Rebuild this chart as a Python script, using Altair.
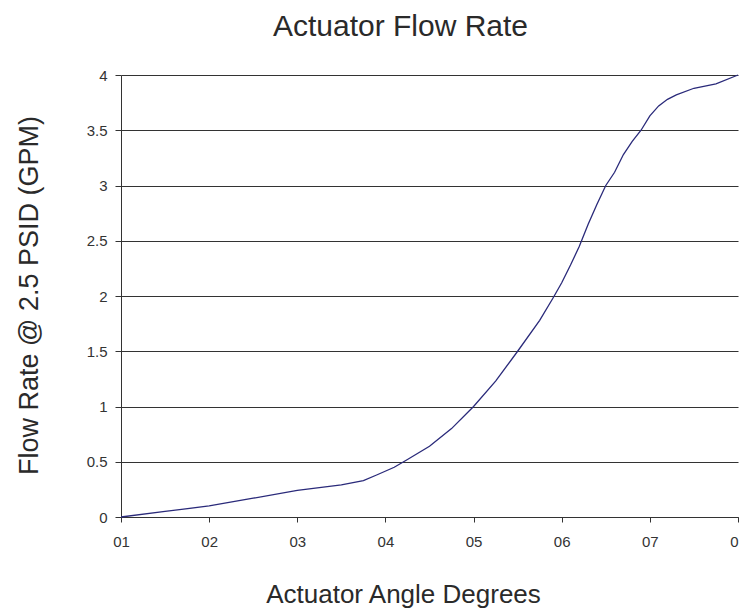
import altair as alt
import pandas as pd

angle = [10, 15, 20, 25, 30, 35, 37.5, 39, 41, 42.5, 45, 47.5, 50, 52.5, 55, 57.5, 59,
         60, 61, 62, 63, 64, 65, 66, 67, 68, 69, 70, 71, 72, 73, 75, 77.5, 80]
flow = [0, 0.05, 0.1, 0.17, 0.24, 0.29, 0.33, 0.38, 0.45, 0.52, 0.64, 0.8, 1.0, 1.23, 1.5,
        1.78, 1.98, 2.12, 2.28, 2.45, 2.65, 2.83, 3.0, 3.12, 3.28, 3.4, 3.5, 3.63, 3.72,
        3.78, 3.82, 3.88, 3.92, 4.0]
x_ticks = [10, 20, 30, 40, 50, 60, 70, 80]
x_labels = ["01", "02", "03", "04", "05", "06", "07", "0"]
y_ticks = [0, 0.5, 1, 1.5, 2, 2.5, 3, 3.5, 4]

df = pd.DataFrame({"angle": angle, "flow": flow})

label_map = "{" + ",".join(f"'{t}':'{l}'" for t, l in zip(x_ticks, x_labels)) + "}"
FONT = "Liberation Sans"

chart = alt.Chart(df).mark_line(color="#2a2a7a", strokeWidth=1.3).encode(
    x=alt.X("angle:Q", scale=alt.Scale(domain=[10, 80], nice=False, zero=False),
            axis=alt.Axis(values=x_ticks, labelExpr=f"{label_map}[datum.value]",
                          title="Actuator Angle Degrees", grid=False,
                          titleX=282, titleY=85, titleBaseline="alphabetic",
                          titleFontSize=26, titleFontWeight="normal", titleFont=FONT,
                          titleColor="#2a2a2a",
                          labelAlign={"condition": {"test": f"datum.value == {x_ticks[-1]}",
                                                    "value": "right"},
                                      "value": "center"},
                          labelFont=FONT, labelFontSize=15, labelColor="#333333",
                          labelPadding=12, domainColor="#333333", tickColor="#333333",
                          tickSize=5, labelFlush=False)),
    y=alt.Y("flow:Q", scale=alt.Scale(domain=[0, 4], nice=False),
            axis=alt.Axis(values=y_ticks, format="~g",
                          title="Flow Rate @ 2.5 PSID (GPM)", grid=True,
                          gridColor="#333333", gridWidth=1.2, gridOpacity=1,
                          titleX=-84, titleY=220, titleAngle=270, titleAlign="center",
                          titleBaseline="alphabetic",
                          titleFontSize=27, titleFontWeight="normal", titleFont=FONT,
                          titleColor="#2a2a2a",
                          labelFont=FONT, labelFontSize=15, labelColor="#333333",
                          labelPadding=8, domainColor="#333333", tickColor="#333333",
                          tickSize=6)),
).properties(
    width=617, height=442,
    padding={"left": 113, "top": 67, "right": 2, "bottom": 91},
    autosize=alt.AutoSizeParams(type="none"),
    title=alt.TitleParams("Actuator Flow Rate", fontSize=30, font=FONT,
                          fontWeight="normal", color="#2a2a2a", anchor="middle",
                          dx=-29, offset=26),
).configure_view(stroke=None)

chart.save("out.html", embed_options={"renderer": "svg", "actions": False})
